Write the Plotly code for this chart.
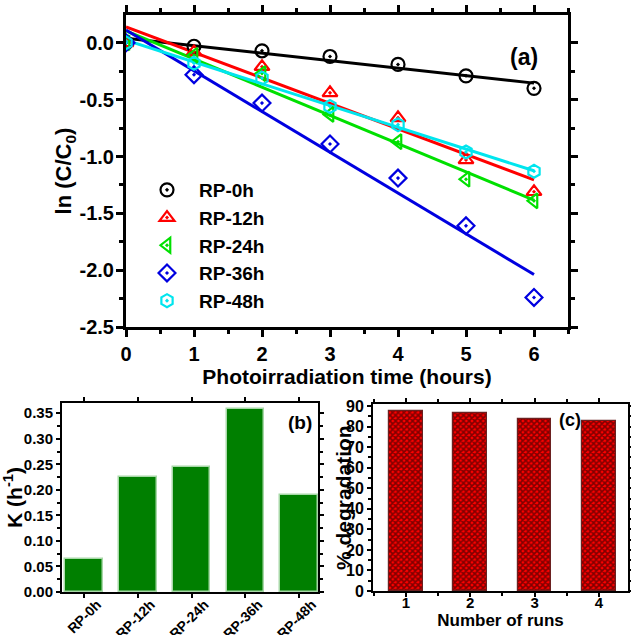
import numpy as np
import plotly.graph_objects as go

# ---------------- data ----------------
time_h = [0, 1, 2, 3, 4, 5, 6]
series_names = ["RP-0h", "RP-12h", "RP-24h", "RP-36h", "RP-48h"]
ln_rp0 = [0.0, -0.03, -0.07, -0.12, -0.19, -0.29, -0.40]
ln_rp12 = [0.0, -0.08, -0.21, -0.44, -0.66, -1.03, -1.31]
ln_rp24 = [0.0, -0.11, -0.27, -0.63, -0.87, -1.20, -1.39]
ln_rp36 = [0.0, -0.28, -0.53, -0.89, -1.19, -1.61, -2.24]
ln_rp48 = [0.0, -0.18, -0.31, -0.56, -0.72, -0.96, -1.13]
ln_tickvals = [0.0, -0.5, -1.0, -1.5, -2.0, -2.5]
ln_ticktext = ["0.0", "-0.5", "-1.0", "-1.5", "-2.0", "-2.5"]

k_categories = ["RP-0h", "RP-12h", "RP-24h", "RP-36h", "RP-48h"]
k_values = [0.065, 0.225, 0.244, 0.358, 0.19]

runs = [1, 2, 3, 4]
degradation = [87.7, 86.4, 83.8, 82.5]

colors = ["black", "red", "#00E000", "#0000E0", "#00E5EE"]
symbols = ["circle-open-dot", "triangle-up-open-dot", "triangle-left-open-dot",
           "diamond-open-dot", "hexagon-open-dot"]
all_series = [ln_rp0, ln_rp12, ln_rp24, ln_rp36, ln_rp48]

W, H = 631, 635
def xd(a, b):
    return [a / W, b / W]
def yd(top, bottom):
    return [1 - bottom / H, 1 - top / H]

FONT = "Liberation Sans, Arial, sans-serif"
fig = go.Figure()

# ---------------- panel (a) ----------------
t = np.array(time_h, dtype=float)
for name, ys, c in zip(series_names, all_series, colors):
    slope, icpt = np.polyfit(t, np.array(ys), 1)
    fig.add_trace(go.Scatter(x=[t[0], t[-1]], y=[icpt + slope * t[0], icpt + slope * t[-1]],
                             mode="lines", line=dict(color=c, width=3),
                             showlegend=False, hoverinfo="skip", xaxis="x", yaxis="y"))
for name, ys, c, s in zip(series_names, all_series, colors, symbols):
    fig.add_trace(go.Scatter(x=time_h, y=ys, mode="markers", name=name,
                             marker=dict(symbol=s, size=13, color=c,
                                         line=dict(color=c, width=2.2)),
                             xaxis="x", yaxis="y"))

# ---------------- panel (b) ----------------
fig.add_trace(go.Bar(x=k_categories, y=k_values, width=0.7,
                     marker=dict(color="#007F00", line=dict(color="#A8D8A8", width=1.5)),
                     showlegend=False, xaxis="x2", yaxis="y2"))

# ---------------- panel (c) ----------------
fig.add_trace(go.Bar(x=runs, y=degradation, width=0.52,
                     marker=dict(color="red", line=dict(color="#6B2020", width=1.2),
                                 pattern=dict(shape="x", fgcolor="black", bgcolor="red",
                                              fillmode="overlay", size=4, solidity=0.65)),
                     showlegend=False, xaxis="x3", yaxis="y3"))

axis_common = dict(showline=True, linecolor="black", mirror="allticks", ticks="outside",
                   tickcolor="black", showgrid=False, zeroline=False, automargin=False)

fig.update_layout(
    width=W, height=H, margin=dict(l=0, r=0, t=0, b=0, autoexpand=False),
    paper_bgcolor="white", plot_bgcolor="white",
    font=dict(family=FONT, color="black", weight="bold"),
    bargap=0,
    xaxis=dict(domain=xd(126, 568), anchor="y", range=[0, 6.5], dtick=1, tick0=0,
               linewidth=3, tickwidth=3, ticklen=7,
               minor=dict(dtick=0.5, ticks="outside", ticklen=4, tickwidth=3, tickcolor="black"),
               tickfont=dict(size=20, family=FONT, weight="bold"),
               title=dict(text="Photoirradiation time (hours)", standoff=2,
                          font=dict(size=21, family=FONT, weight="bold")),
               **axis_common),
    yaxis=dict(domain=yd(15, 327), anchor="x", range=[-2.5, 0.245],
               tickvals=ln_tickvals, ticktext=ln_ticktext,
               linewidth=3, tickwidth=3, ticklen=7, ticklabelstandoff=-2,
               minor=dict(dtick=0.25, ticks="outside", ticklen=4, tickwidth=3, tickcolor="black"),
               tickfont=dict(size=20, family=FONT, weight="bold"),
               title=dict(text="ln (C/C<sub>0</sub>)", standoff=2,
                          font=dict(size=22, family=FONT, weight="bold")),
               **axis_common),
    xaxis2=dict(domain=xd(62, 318), anchor="y2", range=[-0.41, 4.35],
                linewidth=2, tickwidth=2, ticklen=4, tickangle=-45,
                ticklabelshift=13, ticklabelstandoff=-7,
                tickfont=dict(size=14, family=FONT, weight="bold"),
                **axis_common),
    yaxis2=dict(domain=yd(403, 592), anchor="x2", range=[0, 0.37], dtick=0.05,
                tickformat=".2f", linewidth=2, tickwidth=2, ticklen=4,
                minor=dict(dtick=0.025, ticks="outside", ticklen=3, tickwidth=2, tickcolor="black"),
                tickfont=dict(size=15, family=FONT, weight="bold"),
                title=dict(text="K (h<sup>-1</sup>)", standoff=0,
                           font=dict(size=21, family=FONT, weight="bold")),
                **axis_common),
    xaxis3=dict(domain=xd(373, 628), anchor="y3", range=[0.49, 4.45], dtick=1,
                linewidth=2, tickwidth=2, ticklen=4, ticklabelstandoff=-7,
                minor=dict(dtick=0.5, ticks="outside", ticklen=3, tickwidth=2, tickcolor="black"),
                tickfont=dict(size=15, family=FONT, weight="bold"),
                title=dict(text="Number of runs", standoff=0,
                           font=dict(size=17, family=FONT, weight="bold")),
                **axis_common),
    yaxis3=dict(domain=yd(404, 591), anchor="x3", range=[0, 91], dtick=10,
                linewidth=2, tickwidth=2, ticklen=4,
                minor=dict(dtick=5, ticks="outside", ticklen=3, tickwidth=2, tickcolor="black"),
                tickfont=dict(size=16, family=FONT, weight="bold"),
                **axis_common),
    legend=dict(x=135 / W, y=1 - 171 / H, xanchor="left", yanchor="top",
                bgcolor="rgba(0,0,0,0)", itemwidth=54, tracegroupgap=0,
                font=dict(size=19, family=FONT, weight="bold")),
    annotations=[
        dict(text="(a)", x=540 / W, y=1 - 42 / H, xref="paper", yref="paper",
             showarrow=False, font=dict(size=23, family=FONT, weight="bold")),
        dict(text="(b)", x=300 / W, y=1 - 422 / H, xref="paper", yref="paper",
             showarrow=False, font=dict(size=19, family=FONT, weight="bold")),
        dict(text="(c)", x=583 / W, y=1 - 420 / H, xref="paper", yref="paper",
             showarrow=False, font=dict(size=18, family=FONT, weight="bold")),
        dict(text="% degradation", x=343 / W, y=1 - 498 / H, xref="paper", yref="paper",
             xanchor="center", yanchor="middle",
             textangle=-90, showarrow=False, font=dict(size=21, family=FONT, weight="bold")),
    ],
)

fig.write_html("out.html")
